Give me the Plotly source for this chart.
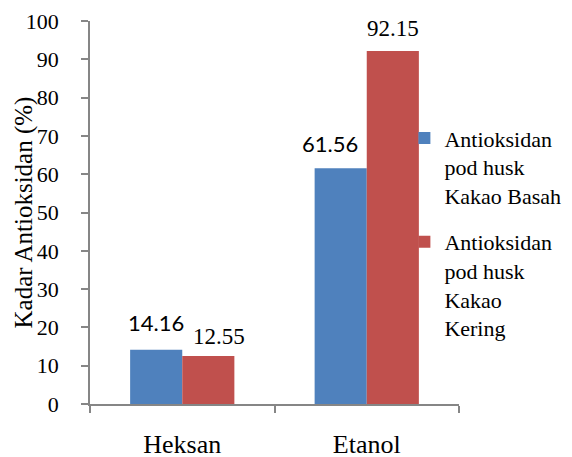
import plotly.graph_objects as go

categories = ["Heksan", "Etanol"]
series_names = ["Antioksidan<br>pod husk<br>Kakao Basah", "Antioksidan<br>pod husk<br>Kakao<br>Kering"]
basah = [14.16, 61.56]
kering = [12.55, 92.15]
y_ticks = list(range(0, 101, 10))
y_title = "Kadar Antioksidan (%)"

blue = "#4F81BD"
red = "#C0504D"
serif = "Liberation Serif"
sans = "Lato"

fig = go.Figure()
fig.add_trace(go.Bar(x=categories, y=basah, name=series_names[0], marker_color=blue,
                     legendgroup="a", marker_line_width=0))
fig.add_trace(go.Bar(x=categories, y=kering, name=series_names[1], marker_color=red,
                     legendgroup="b", marker_line_width=0))

# data labels (style offsets only)
label_style = [
    (basah, sans, 22, [-26, -37], [27, 25]),
    (kering, serif, 23, [37, 26], [19, 23]),
]
for vals, fam, fs, xs, ys in label_style:
    for cat, v, dx, dy in zip(categories, vals, xs, ys):
        fig.add_annotation(x=cat, y=v, text=f"{v:.2f}", showarrow=False,
                           xshift=dx, yshift=dy, yanchor="middle",
                           font=dict(family=fam, size=fs, color="black"))

fig.add_annotation(xref="paper", yref="paper", x=-0.179, y=0.5, text=y_title,
                   textangle=-90, showarrow=False, xanchor="center", yanchor="middle",
                   font=dict(family=serif, size=25, color="black"))

fig.update_layout(
    width=572, height=457,
    margin=dict(l=90, r=113, t=21, b=53, autoexpand=False),
    paper_bgcolor="white", plot_bgcolor="white",
    barmode="group", bargap=0.435, bargroupgap=0,
    font=dict(family=serif, size=20, color="black"),
    legend=dict(x=0.852, y=0.749, xanchor="left", yanchor="top",
                font=dict(family=serif, size=22, color="black"),
                tracegroupgap=15, valign="top", bgcolor="rgba(0,0,0,0)",
                traceorder="grouped"),
    xaxis=dict(showline=True, linecolor="#868686", linewidth=1.5,
               ticks="outside", ticklen=7, tickcolor="#868686", tickwidth=1.5,
               tickson="boundaries", ticklabelstandoff=16,
               tickfont=dict(family=serif, size=26, color="black"),
               showgrid=False, zeroline=False),
    yaxis=dict(range=[0, 100], tickvals=y_ticks, showline=True, linecolor="#868686",
               linewidth=1.5, ticks="outside", ticklen=7, tickcolor="#868686", tickwidth=1.5,
               ticklabelstandoff=18,
               tickfont=dict(family=serif, size=22, color="black"),
               showgrid=False, zeroline=False),
)

fig.write_html("out.html", config={"displayModeBar": False},
               post_script="document.body.style.margin='0';")
